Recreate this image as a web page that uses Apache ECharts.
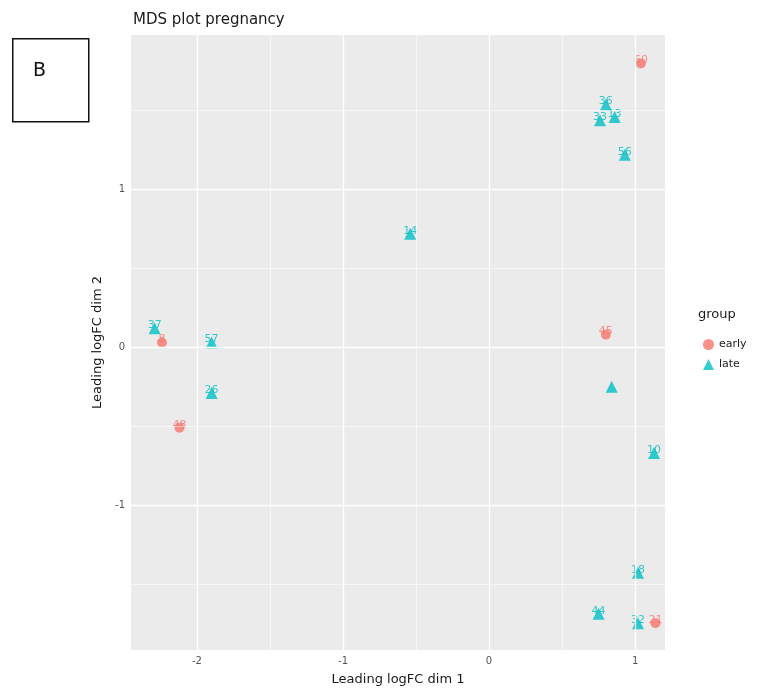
<!DOCTYPE html>
<html>
<head>
<meta charset="utf-8">
<script src="https://cdn.jsdelivr.net/npm/echarts@6/dist/echarts.min.js"></script>
<style>
  html, body { margin: 0; padding: 0; background: #ffffff; }
  #chart { width: 770px; height: 698px; }
</style>
</head>
<body>
<div id="chart"></div>
<script>
// MDS coordinates per sample, split by group
const earlyX = [1.04, 0.80, -2.24, -2.12, 1.14];
const earlyY = [1.80, 0.08, 0.03, -0.51, -1.75];
const earlyLabels = ['60', '45', '8', '48', '21'];

const lateX = [0.80, 0.86, 0.76, 0.93, -0.54, -2.29, -1.90, -1.90, 0.84, 1.13, 1.02, 0.75, 1.02];
const lateY = [1.54, 1.46, 1.44, 1.22, 0.72, 0.12, 0.03, -0.29, -0.25, -0.67, -1.43, -1.69, -1.75];
const lateLabels = ['36', '13', '33', '56', '14', '37', '57', '26', '', '10', '18', '44', '32'];

// axis ticks and grid lines
const xTicks = [-2, -1, 0, 1];
const yTicks = [-1, 0, 1];
const xMinor = [-2.5, -1.5, -0.5, 0.5];
const yMinor = [-1.5, -0.5, 0.5, 1.5];

const xRange = [-2.452, 1.205];
const yRange = [-1.92, 1.98];

const EARLY = '#F8766D';
const LATE = '#00BFC4';

function pts(xs, ys, labels) {
  return xs.map((x, i) => ({ value: [x, ys[i]], name: labels[i] }));
}

const gridLines = {
  silent: true,
  symbol: 'none',
  animation: false,
  label: { show: false },
  data: [
    ...xMinor.map(v => ({ xAxis: v, lineStyle: { color: '#ffffff', width: 0.6, type: 'solid' } })),
    ...yMinor.map(v => ({ yAxis: v, lineStyle: { color: '#ffffff', width: 0.6, type: 'solid' } })),
    ...xTicks.map(v => ({ xAxis: v, lineStyle: { color: '#ffffff', width: 1.3, type: 'solid' } })),
    ...yTicks.map(v => ({ yAxis: v, lineStyle: { color: '#ffffff', width: 1.3, type: 'solid' } }))
  ]
};

const pointLabel = {
  show: true,
  position: 'inside',
  offset: [0, -3],
  fontSize: 11,
  fontFamily: 'DejaVu Sans',
  formatter: p => p.name
};

const chart = echarts.init(document.getElementById('chart'), null, { renderer: 'canvas' });
chart.setOption({
  animation: false,
  backgroundColor: '#ffffff',
  title: {
    text: 'MDS plot pregnancy',
    left: 128,
    top: 8,
    textStyle: { fontSize: 15, fontWeight: 'normal', color: '#1a1a1a', fontFamily: 'DejaVu Sans' }
  },
  grid: {
    left: 131, right: 105, top: 35, bottom: 48,
    show: true, backgroundColor: '#EBEBEB', borderWidth: 0
  },
  xAxis: {
    type: 'value',
    min: xRange[0], max: xRange[1],
    name: 'Leading logFC dim 1',
    nameLocation: 'middle',
    nameGap: 23,
    nameTextStyle: { fontSize: 13, color: '#1a1a1a', fontFamily: 'DejaVu Sans' },
    axisLine: { show: false },
    axisTick: { show: true, customValues: xTicks, length: 3, lineStyle: { color: '#333333' } },
    axisLabel: { customValues: xTicks, fontSize: 10, color: '#555555', margin: 6, fontFamily: 'DejaVu Sans' },
    splitLine: { show: false }
  },
  yAxis: {
    type: 'value',
    min: yRange[0], max: yRange[1],
    name: 'Leading logFC dim 2',
    nameLocation: 'middle',
    nameGap: 25,
    nameRotate: 90,
    nameTextStyle: { fontSize: 13, color: '#1a1a1a', fontFamily: 'DejaVu Sans' },
    axisLine: { show: false },
    axisTick: { show: true, customValues: yTicks, length: 3, lineStyle: { color: '#333333' } },
    axisLabel: { customValues: yTicks, fontSize: 10, color: '#555555', margin: 6, fontFamily: 'DejaVu Sans' },
    splitLine: { show: false }
  },
  legend: {
    orient: 'vertical',
    left: 698,
    top: 334,
    itemGap: 9,
    itemWidth: 11,
    itemHeight: 11,
    textStyle: { fontSize: 11, color: '#1a1a1a', fontFamily: 'DejaVu Sans' },
    data: [
      { name: 'early', icon: 'circle' },
      { name: 'late', icon: 'triangle' }
    ]
  },
  graphic: [
    {
      type: 'text', left: 698, top: 308,
      style: { text: 'group', fontSize: 13, fill: '#1a1a1a', fontFamily: 'DejaVu Sans' }
    },
    {
      type: 'rect', left: 12, top: 38,
      shape: { width: 76, height: 83 },
      style: { fill: '#ffffff', stroke: '#111111', lineWidth: 1.5 }
    },
    {
      type: 'text', left: 33, top: 62,
      style: { text: 'B', fontSize: 19, fill: '#111111', fontFamily: 'DejaVu Sans' }
    }
  ],
  series: [
    {
      name: 'grid',
      type: 'scatter',
      data: [],
      markLine: gridLines,
      z: 1
    },
    {
      name: 'early',
      type: 'scatter',
      symbol: 'circle',
      symbolSize: 10,
      itemStyle: { color: EARLY },
      label: Object.assign({}, pointLabel, { color: EARLY }),
      data: pts(earlyX, earlyY, earlyLabels),
      z: 3
    },
    {
      name: 'late',
      type: 'scatter',
      symbol: 'triangle',
      symbolSize: 12,
      itemStyle: { color: LATE },
      label: Object.assign({}, pointLabel, { color: LATE }),
      data: pts(lateX, lateY, lateLabels),
      z: 3
    }
  ]
});
</script>
</body>
</html>
